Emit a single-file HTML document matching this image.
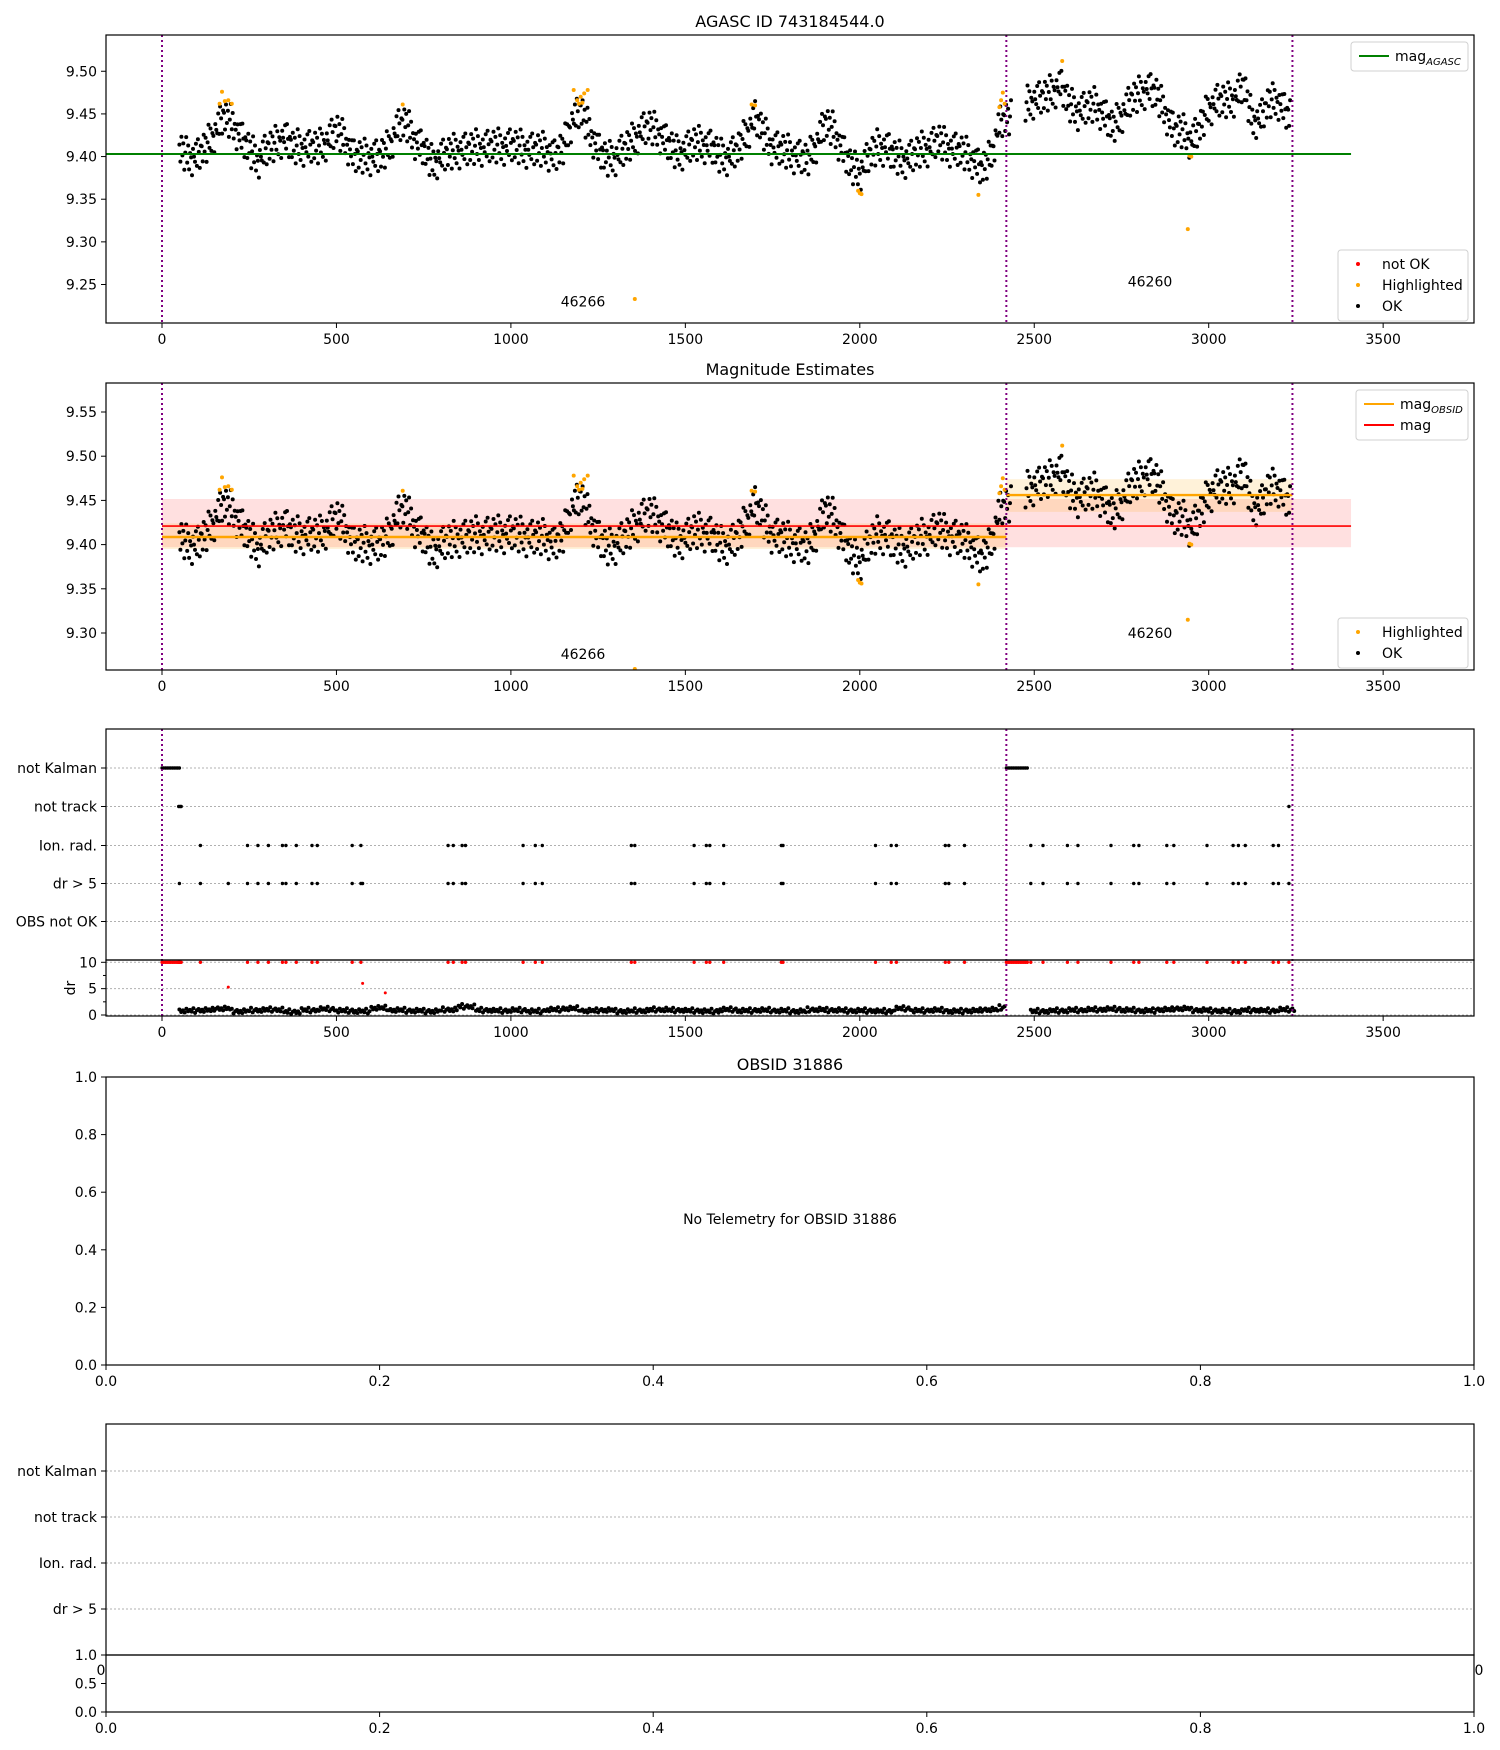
<!DOCTYPE html>
<html><head><meta charset="utf-8"><style>
html,body{margin:0;padding:0;background:#fff}
svg{display:block;font-family:"DejaVu Sans","Liberation Sans",sans-serif}
</style></head><body>
<svg id="fig" width="1500" height="1750" viewBox="0 0 1500 1750" xmlns="http://www.w3.org/2000/svg">
<defs>
<clipPath id="c1"><rect x="106" y="35" width="1368" height="288"/></clipPath>
<clipPath id="c2"><rect x="106" y="383" width="1368" height="287"/></clipPath>
<clipPath id="c3"><rect x="106" y="729" width="1368" height="287"/></clipPath>
</defs>
<text x="790" y="27" font-size="16" text-anchor="middle">AGASC ID 743184544.0</text>
<text x="790" y="375" font-size="16" text-anchor="middle">Magnitude Estimates</text>
<text x="790" y="1070" font-size="16" text-anchor="middle">OBSID 31886</text>
<g id="g1" clip-path="url(#c1)"></g>
<g id="g2" clip-path="url(#c2)"></g>
<g id="g3" clip-path="url(#c3)"></g>
<g id="gax"></g>
</svg>
<script>
const seg1Start = 50, seg2Start = 2475, binWidth = 25;
const seg1Mag = [9.408,9.400,9.400,9.411,9.427,9.446,9.440,9.423,9.408,9.396,9.408,9.415,9.423,9.411,9.411,9.411,9.411,9.419,9.431,9.419,9.400,9.400,9.400,9.400,9.411,9.435,9.439,9.419,9.408,9.392,9.400,9.404,9.408,9.408,9.411,9.411,9.412,9.412,9.413,9.411,9.408,9.408,9.408,9.400,9.411,9.442,9.454,9.431,9.408,9.396,9.400,9.408,9.419,9.431,9.435,9.427,9.415,9.404,9.408,9.415,9.415,9.411,9.400,9.400,9.408,9.427,9.446,9.427,9.411,9.408,9.404,9.400,9.396,9.415,9.439,9.431,9.408,9.388,9.381,9.400,9.411,9.411,9.400,9.396,9.400,9.408,9.411,9.419,9.411,9.408,9.404,9.396,9.384,9.400,9.439,9.445];
const seg2Mag = [9.461,9.467,9.469,9.476,9.484,9.461,9.453,9.457,9.461,9.449,9.434,9.449,9.465,9.473,9.480,9.473,9.453,9.430,9.430,9.418,9.434,9.457,9.465,9.465,9.469,9.484,9.442,9.446,9.465,9.465,9.449];
const scatterMag = [0.006,-0.013,0.017,-0.004,0.011,-0.019,0.002,0.021,-0.008,0.013,-0.015,0.004,-0.001,-0.022,0.009,0.000,-0.006,0.015,-0.011,0.019,0.003,-0.017,0.008];
const hlTimes = [165,172,180,190,200,690,1180,1190,1195,1200,1205,1210,1220,1355,1690,1700,1995,2000,2005,2340,2400,2405,2410,2415,2580,2940,2945,2950];
const hlMags = [9.462,9.476,9.465,9.466,9.462,9.461,9.478,9.466,9.462,9.470,9.463,9.474,9.478,9.233,9.461,9.460,9.360,9.357,9.356,9.355,9.458,9.466,9.475,9.462,9.512,9.315,9.401,9.400];
const obsBreaks = [0,2420,3240];
const obsLabels = ["46266","46260"];
const magAgasc = 9.403, magAll = 9.421, magAllLo = 9.397, magAllHi = 9.4516;
const magObs = [9.4086,9.456], magObsLo = [9.395,9.437], magObsHi = [9.424,9.474];
const rowLabels = ["not Kalman","not track","Ion. rad.","dr > 5","OBS not OK"];
const notKalmanTimes = [0,5,10,15,20,25,30,35,40,45,50,2420,2425,2430,2435,2440,2445,2450,2455,2460,2465,2470,2475,2480];
const notTrackTimes = [48,52,55,3230];
const ionTimes = [110,245,275,305,345,355,385,430,445,545,570,820,835,860,870,1035,1070,1090,1345,1355,1525,1560,1570,1610,1775,1780,2045,2090,2105,2245,2255,2300,2490,2525,2595,2625,2720,2785,2800,2880,2900,2995,3070,3085,3105,3185,3200];
const drExtraTimes = [50,190,575,3230];
const drTrend = [0.8,0.9,1.2,0.7,0.9,1.0,0.6,0.9,1.1,0.8,0.7,1.3,0.9,0.8,0.7,1.0,1.6,0.9,0.8,0.9,0.7,1.0,1.2,0.8,0.9,0.7,0.8,1.0,0.9,0.8,0.7,1.0,0.8,0.9,0.8,0.7,1.0,0.9,0.8,0.8,0.7,1.2,0.8,0.9,0.7,0.8,1.0,1.4,0.6,0.7,0.8,0.9,1.0,1.1,0.9,0.8,1.0,1.2,0.9,0.8,0.7,0.9,0.8,1.0];
const drScatter = [0.3,-0.3,0.1,-0.4,0.5,-0.1,0.2,-0.2,0.6,-0.5,0.0];
const drRedTimes = [190,575,640];
const drRedVals = [5.3,6.0,4.2];
const xTicks = [0,500,1000,1500,2000,2500,3000,3500];
const y1Ticks = [9.25,9.30,9.35,9.40,9.45,9.50];
const y2Ticks = [9.30,9.35,9.40,9.45,9.50,9.55];
const drTicks = [0,5,10];
const unitTicks = [0,0.2,0.4,0.6,0.8,1.0];

const NS = "http://www.w3.org/2000/svg";
const X = t => 162 + t*0.3489;
const Y1 = v => 154 - (v-9.403)*853;
const Y2 = v => 633 - (v-9.30)*884;
const YD = d => 1015 - d*5.27;
const rowY = [768,806.5,845.5,883.5,921.5];
const row5Y = [1471,1517,1563,1609];
const X4 = u => 106 + u*1368;
const Y4 = u => 1365 - u*288;
const Y6 = u => 1712 - u*57;
function mk(parent, tag, attrs, text){
  const e = document.createElementNS(NS, tag);
  for (const k in attrs) e.setAttribute(k, attrs[k]);
  if (text !== undefined) e.textContent = text;
  parent.appendChild(e); return e;
}
const g1 = document.getElementById('g1'), g2 = document.getElementById('g2'), g3 = document.getElementById('g3'), gax = document.getElementById('gax');

function magPoints(){
  const pts = [];
  [[seg1Start, seg1Mag],[seg2Start, seg2Mag]].forEach(([s, arr], si) => {
    for (let i=0;i<arr.length;i++){
      const n = (i < arr.length-1) ? 9 : 4;
      for (let k=0;k<n;k++){
        const nxt = i < arr.length-1 ? arr[i+1] : arr[i];
        const v = arr[i] + (nxt-arr[i])*k/9 + scatterMag[(i*9+k+si*5)%scatterMag.length];
        pts.push([s + i*binWidth + k*binWidth/9, v]);
      }
    }
  });
  return pts;
}
const pts = magPoints();

mk(g2,'rect',{x:X(0),y:Y2(magAllHi),width:X(3408)-X(0),height:Y2(magAllLo)-Y2(magAllHi),fill:'#ff0000','fill-opacity':0.12});
const segs = [[0,2420],[2420,3240]];
segs.forEach(([a,b],i)=>{
  mk(g2,'rect',{x:X(a),y:Y2(magObsHi[i]),width:X(b)-X(a),height:Y2(magObsLo[i])-Y2(magObsHi[i]),fill:'#ffa500','fill-opacity':0.15});
});

[[g1,Y1,'1'],[g2,Y2,'2']].forEach(([g,Y,p])=>{
  pts.forEach(([t,v])=>{
    const c = mk(g,'circle',{cx:X(t).toFixed(1),cy:Y(v).toFixed(1),r:2,fill:'#000'});
    
    
  });
  hlTimes.forEach((t,i)=>{
    let y = Y(hlMags[i]);
    if (p==='2' && y>668) y = 669;
    const c = mk(g,'circle',{cx:X(t).toFixed(1),cy:y.toFixed(1),r:2,fill:'#ffa500'});
    
    
  });
});
let l = mk(g1,'line',{x1:X(-162),x2:X(3408),y1:Y1(magAgasc),y2:Y1(magAgasc),stroke:'#008000','stroke-width':2});


l = mk(g2,'line',{x1:X(0),x2:X(3408),y1:Y2(magAll),y2:Y2(magAll),stroke:'#ff0000','stroke-width':1.6});


segs.forEach(([a,b],i)=>{
  const e = mk(g2,'line',{x1:X(a),x2:X(b),y1:Y2(magObs[i]),y2:Y2(magObs[i]),stroke:'#ffa500','stroke-width':2.4});
  
  
});
[[Y1(9.2245),Y1(9.2475)],[Y2(9.2705),Y2(9.2945)]].forEach(([ya,yb],p)=>{
  const g = p===0?g1:g2;
  let t = mk(g,'text',{x:583,y:ya,'font-size':14,'text-anchor':'middle'},obsLabels[0]);
  
  
  t = mk(g,'text',{x:1150,y:yb,'font-size':14,'text-anchor':'middle'},obsLabels[1]);
  
  
});

rowY.forEach(y=>mk(g3,'line',{x1:106,x2:1474,y1:y,y2:y,stroke:'#b0b0b0','stroke-width':1,'stroke-dasharray':'2,2'}));
drTicks.forEach(d=>mk(g3,'line',{x1:106,x2:1474,y1:YD(d),y2:YD(d),stroke:'#b0b0b0','stroke-width':1,'stroke-dasharray':'2,2'}));
function rowDots(times, y, color){
  times.forEach(t=>{
    const c = mk(g3,'circle',{cx:X(t).toFixed(1),cy:y,r:1.7,fill:color});
    
    
  });
}
rowDots(notKalmanTimes,rowY[0],'#000');
rowDots(notTrackTimes,rowY[1],'#000');
rowDots(ionTimes,rowY[2],'#000');
rowDots(ionTimes.concat(drExtraTimes),rowY[3],'#000');
rowDots(notKalmanTimes.concat(ionTimes,notTrackTimes),YD(10),'#ff0000');
drTrend.forEach((d,i)=>{
  for(let k=0;k<10;k++){
    const t = 50 + i*50 + k*5;
    if (t>2418 && t<2490) continue;
    if (t>3245) continue;
    const v = d + drScatter[(i*10+k)%drScatter.length]*0.8;
    const c = mk(g3,'circle',{cx:X(t).toFixed(1),cy:YD(v).toFixed(1),r:2,fill:'#000'});
    
    
  }
});
drRedTimes.forEach((t,i)=>{
  const c = mk(g3,'circle',{cx:X(t),cy:YD(drRedVals[i]),r:1.5,fill:'#ff0000'});
  
  
});

[[g1,35,323],[g2,383,670],[g3,729,1016]].forEach(([g,a,b])=>{
  obsBreaks.forEach(t=>{
    const e = mk(g,'line',{x1:X(t),x2:X(t),y1:a,y2:b,stroke:'#800080','stroke-width':2,'stroke-dasharray':'2,3'});
    
    
  });
});

function frame(y0,y1,name){
  const r = mk(gax,'rect',{x:106,y:y0,width:1368,height:y1-y0,fill:'none',stroke:'#000','stroke-width':1.2});
  
  
}
function xt(yb, ticks, fx, fmt){
  ticks.forEach(t=>{
    const x = fx(t);
    mk(gax,'line',{x1:x,x2:x,y1:yb,y2:yb+5,stroke:'#000'});
    const e = mk(gax,'text',{x:x,y:yb+21,'font-size':14,'text-anchor':'middle'},fmt(t));
    
    
  });
}
function yt(ticks, fy, fmt){
  ticks.forEach(v=>{
    const y = fy(v);
    mk(gax,'line',{x1:101,x2:106,y1:y,y2:y,stroke:'#000'});
    const e = mk(gax,'text',{x:97,y:y+5,'font-size':14,'text-anchor':'end'},fmt(v));
    
    
  });
}
frame(35,323,'agasc-axes'); xt(323,xTicks,X,String); yt(y1Ticks,Y1,v=>v.toFixed(2));
frame(383,670,'estimates-axes'); xt(670,xTicks,X,String); yt(y2Ticks,Y2,v=>v.toFixed(2));
frame(729,960,'flags-axes'); frame(960,1016,'dr-axes'); xt(1016,xTicks,X,String);
yt(rowLabels.map((_,i)=>i),i=>rowY[i],i=>rowLabels[i]);
yt(drTicks,YD,String);
[2.5,7.5].forEach(d=>mk(gax,'line',{x1:103,x2:106,y1:YD(d),y2:YD(d),stroke:'#000'}));
let yl = mk(gax,'text',{x:70,y:993,'font-size':14,'text-anchor':'middle',transform:'rotate(-90 70 988)'},'dr');



frame(1077,1365,'obsid-axes'); xt(1365,unitTicks,X4,v=>v.toFixed(1)); yt(unitTicks,Y4,v=>v.toFixed(1));
let nt = mk(gax,'text',{x:790,y:1224,'font-size':14,'text-anchor':'middle'},'No Telemetry for OBSID 31886');



rowLabels.slice(0,4).forEach((s,i)=>mk(gax,'line',{x1:106,x2:1474,y1:row5Y[i],y2:row5Y[i],stroke:'#b0b0b0','stroke-dasharray':'2,2'}));
frame(1424,1655,'obsid-flags-axes');
yt([0,1,2,3],i=>row5Y[i],i=>rowLabels[i]);
let z1 = mk(gax,'text',{x:101,y:1675,'font-size':14,'text-anchor':'middle'},'0');  
let z2 = mk(gax,'text',{x:1479,y:1675,'font-size':14,'text-anchor':'middle'},'0');  
mk(gax,'rect',{x:106,y:1656,width:1368,height:55,fill:'#fff'});
frame(1655,1712,'obsid-dr-axes'); xt(1712,unitTicks,X4,v=>v.toFixed(1)); yt([0,0.5,1.0],Y6,v=>v.toFixed(1));

function legend(x,y,w,items){
  const g = mk(gax,'g',{});
  
  
  mk(g,'rect',{x:x,y:y,width:w,height:items.length*21+8,rx:3,fill:'#fff',stroke:'#d0d0d0'});
  items.forEach((it,i)=>{
    const cy = y+14+i*21;
    if (it.type==='line') mk(g,'line',{x1:x+8,x2:x+38,y1:cy,y2:cy,stroke:it.color,'stroke-width':2});
    else mk(g,'circle',{cx:x+20,cy:cy,r:2,fill:it.color});
    const t = mk(g,'text',{x:x+44,y:cy+5,'font-size':14},it.label);
    if (it.sub) mk(t,'tspan',{'font-size':10,'font-style':'italic',dy:4},it.sub);
    
    
  });
}
legend(1351,42,117,[{type:'line',color:'#008000',label:'mag',sub:'AGASC'}]);
legend(1338,250,130,[{type:'dot',color:'#ff0000',label:'not OK'},{type:'dot',color:'#ffa500',label:'Highlighted'},{type:'dot',color:'#000',label:'OK'}]);
legend(1356,390,112,[{type:'line',color:'#ffa500',label:'mag',sub:'OBSID'},{type:'line',color:'#ff0000',label:'mag'}]);
legend(1338,618,130,[{type:'dot',color:'#ffa500',label:'Highlighted'},{type:'dot',color:'#000',label:'OK'}]);
</script>
</body></html>
